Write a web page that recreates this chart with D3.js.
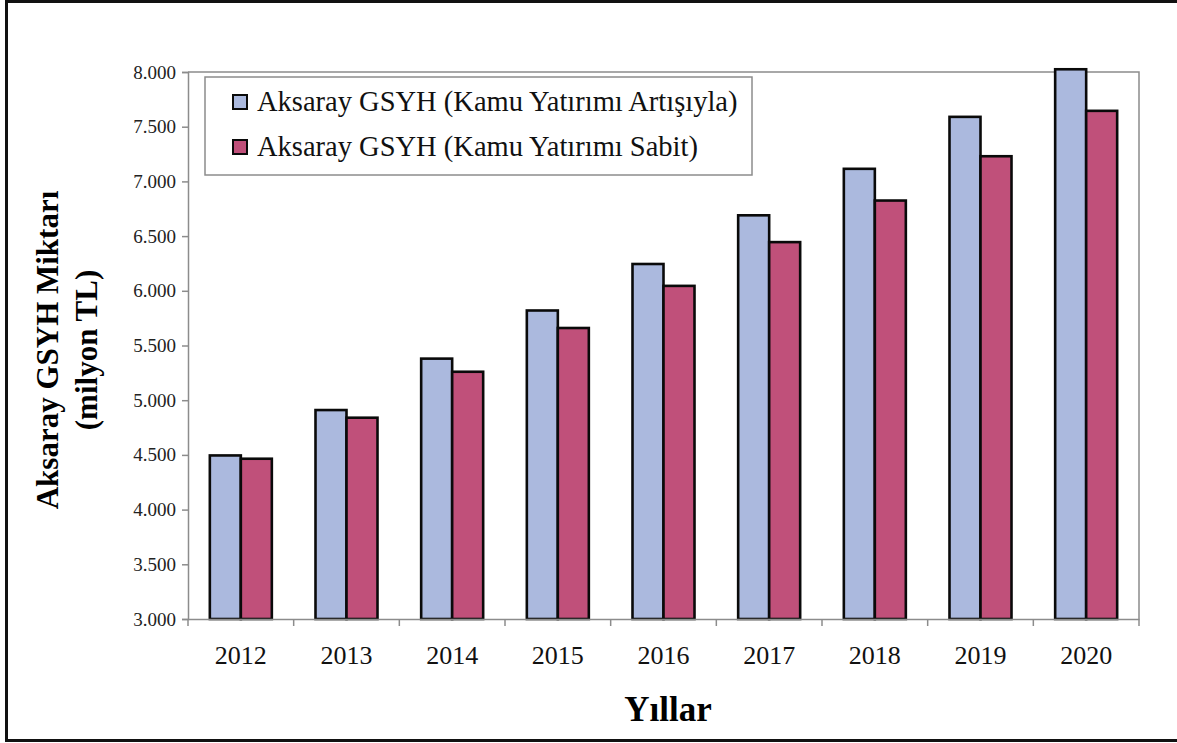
<!DOCTYPE html>
<html>
<head>
<meta charset="utf-8">
<script src="https://cdn.jsdelivr.net/npm/d3@7"></script>
<style>
  body { margin: 0; background: #fff; }
  svg { display: block; }
  text { font-family: 'Liberation Serif', serif; }
</style>
</head>
<body>
<div id="chart"></div>
<script>
const years = ['2012', '2013', '2014', '2015', '2016', '2017', '2018', '2019', '2020']
const seriesNames = ['Aksaray GSYH (Kamu Yatırımı Artışıyla)', 'Aksaray GSYH (Kamu Yatırımı Sabit)']
const withInvestment = [4495, 4910, 5380, 5820, 6245, 6690, 7115, 7590, 8025]
const fixedInvestment = [4465, 4840, 5260, 5660, 6045, 6445, 6825, 7230, 7645]
const yTicks = [3000, 3500, 4000, 4500, 5000, 5500, 6000, 6500, 7000, 7500, 8000]
const colors = ['#abb9de', '#c0507a']

const width = 1177
const height = 743
const margin = { top: 72, right: 38, bottom: 124, left: 188 }
const serif = 'Liberation Serif, serif'

const svg = d3.select('#chart').append('svg')
  .attr('width', width)
  .attr('height', height)

// outer frame
svg.append('path')
  .attr('d', `M1177,1.5 H6.5 V740.5 H1177`)
  .attr('fill', 'none')
  .attr('stroke', '#111')
  .attr('stroke-width', 3)

const x0 = d3.scaleBand()
  .domain(years)
  .range([margin.left, width - margin.right])
const x1 = d3.scaleBand()
  .domain([0, 1])
  .range([0, 62])
const y = d3.scaleLinear()
  .domain([3000, 8000])
  .range([height - margin.bottom, margin.top])

const plotLeft = margin.left
const plotRight = width - margin.right
const plotTop = margin.top
const plotBottom = height - margin.bottom

// plot area frame (top & right)
svg.append('path')
  .attr('d', `M${plotLeft},${plotTop} H${plotRight} V${plotBottom}`)
  .attr('fill', 'none')
  .attr('stroke', '#8c8c8c')
  .attr('stroke-width', 1.5)

const rows = years.map((yr, i) => ({ year: yr, values: [withInvestment[i], fixedInvestment[i]] }))

svg.append('g')
  .selectAll('g')
  .data(rows)
  .enter()
  .append('g')
  .attr('transform', d => `translate(${x0(d.year) + (x0.bandwidth() - 62) / 2},0)`)
  .selectAll('rect')
  .data(d => d.values.map((v, k) => ({ k, v })))
  .enter()
  .append('rect')
  .attr('x', d => x1(d.k))
  .attr('y', d => y(d.v))
  .attr('width', x1.bandwidth())
  .attr('height', d => y(3000) - y(d.v))
  .attr('fill', d => colors[d.k])
  .attr('stroke', '#0a0a0a')
  .attr('stroke-width', 2.6)

// y axis
const yAxis = svg.append('g')
  .attr('transform', `translate(${plotLeft},0)`)
  .call(d3.axisLeft(y).tickValues(yTicks).tickSize(6).tickPadding(6)
    .tickFormat(d => d3.format(',')(d).replace(',', '.')))
yAxis.attr('font-family', serif).attr('font-size', 19)
yAxis.select('.domain').attr('stroke', '#8c8c8c').attr('stroke-width', 1.5)
yAxis.selectAll('.tick line').attr('stroke', '#8c8c8c').attr('stroke-width', 1.5)
yAxis.selectAll('text').attr('fill', '#222')

// x axis
const xAxis = svg.append('g')
  .attr('transform', `translate(0,${plotBottom})`)
  .call(d3.axisBottom(x0).tickSize(0).tickPadding(27))
xAxis.attr('font-family', serif).attr('font-size', 26)
xAxis.select('.domain').attr('stroke', '#8c8c8c').attr('stroke-width', 1.5)
xAxis.selectAll('text').attr('fill', '#111')
xAxis.selectAll('.sep')
  .data(years.concat(['end']))
  .enter()
  .append('line')
  .attr('class', 'sep')
  .attr('x1', (d, i) => i < years.length ? x0(d) : plotRight)
  .attr('x2', (d, i) => i < years.length ? x0(d) : plotRight)
  .attr('y1', 0)
  .attr('y2', 7)
  .attr('stroke', '#8c8c8c')
  .attr('stroke-width', 1.5)

// axis titles
svg.append('text')
  .attr('x', 668)
  .attr('y', 721)
  .attr('text-anchor', 'middle')
  .attr('font-family', serif)
  .attr('font-weight', 'bold')
  .attr('font-size', 35)
  .attr('fill', '#000')
  .text('Yıllar')

const yTitle = svg.append('text')
  .attr('transform', 'translate(58,350) rotate(-90)')
  .attr('text-anchor', 'middle')
  .attr('font-family', serif)
  .attr('font-weight', 'bold')
  .attr('font-size', 31)
  .attr('fill', '#000')
yTitle.append('tspan').attr('x', 0).attr('dy', 0).text('Aksaray GSYH Miktarı')
yTitle.append('tspan').attr('x', 0).attr('dy', 39).text('(milyon TL)')

// legend
const legend = svg.append('g').attr('transform', 'translate(205,77)')
legend.append('rect')
  .attr('width', 547)
  .attr('height', 98)
  .attr('fill', '#fff')
  .attr('stroke', '#8c8c8c')
  .attr('stroke-width', 1.5)
const item = legend.selectAll('g')
  .data(seriesNames)
  .enter()
  .append('g')
  .attr('transform', (d, i) => `translate(28,${18 + i * 45})`)
item.append('rect')
  .attr('width', 14)
  .attr('height', 14)
  .attr('fill', (d, i) => colors[i])
  .attr('stroke', '#0a0a0a')
  .attr('stroke-width', 2)
item.append('text')
  .attr('x', 24)
  .attr('y', 16)
  .attr('font-family', serif)
  .attr('font-size', 28.5)
  .attr('fill', '#111')
  .text(d => d)
</script>
</body>
</html>
